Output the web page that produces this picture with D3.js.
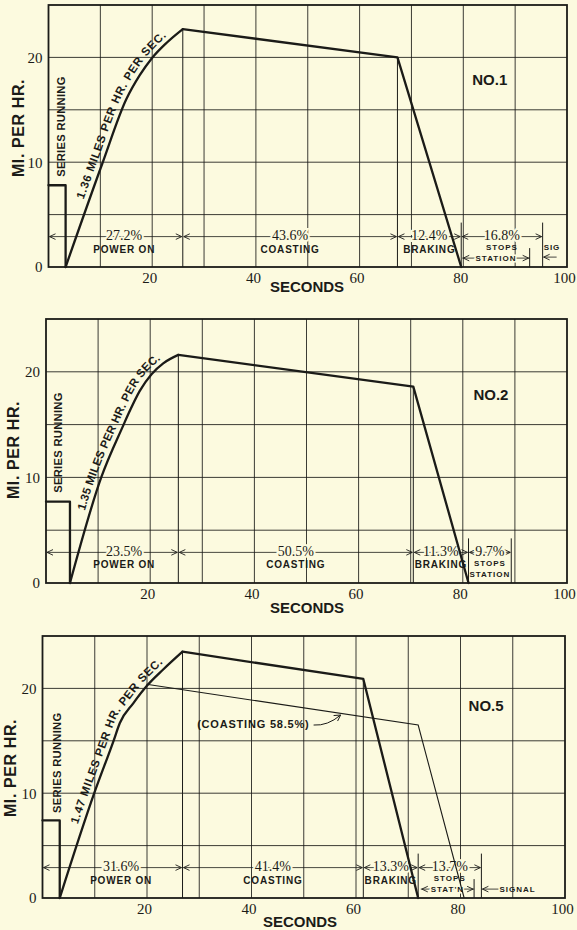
<!DOCTYPE html>
<html><head><meta charset="utf-8">
<script src="https://cdn.jsdelivr.net/npm/d3@7"></script>
<style>
html,body{margin:0;padding:0;background:#fcfadf;}
svg{display:block;}
</style></head><body>
<svg id="chart" width="577" height="930"></svg>
<script>
// ---------- DATA ----------
const xTicks = [20, 40, 60, 80, 100];
const yTicks = [0, 10, 20];

// Run No.1 (series running step, acceleration, coasting, braking)
const run1Time  = [0, 3.3, 3.3, 10.4, 15.0, 17.6, 19.9, 22.8, 25.9, 67.3, 79.6];
const run1Speed = [7.8, 7.8, 0, 9.9, 16.0, 18.3, 19.9, 21.4, 22.7, 20.0, 0];
// Run No.2
const run2Time  = [0, 4.6, 4.6, 10.6, 14.9, 15.8, 18.0, 20.3, 22.5, 25.4, 70.5, 81.1];
const run2Speed = [7.7, 7.7, 0, 10.0, 15.0, 16.0, 18.2, 19.8, 20.8, 21.6, 18.6, 0];
// Run No.5
const run5Time  = [0, 3.3, 3.3, 9.9, 13.6, 14.8, 17.4, 19.9, 23.1, 26.8, 61.4, 71.9];
const run5Speed = [7.4, 7.4, 0, 10.0, 15.0, 16.7, 18.6, 20.2, 21.8, 23.5, 20.9, 0];
// Run No.5, alternative (coasting 58.5%)
const run5AltTime  = [19.9, 71.9, 80.7];
const run5AltSpeed = [20.4, 16.5, 0];

// Phase boundaries (seconds) and percentages
const bounds1 = [0, 25.9, 67.3, 79.6, 95.3];
const pct1 = ["27.2%", "43.6%", "12.4%", "16.8%"];
const bounds2 = [0, 25.4, 70.5, 81.1, 89.3];
const pct2 = ["23.5%", "50.5%", "11.3%", "9.7%"];
const bounds5 = [0, 26.8, 61.4, 71.9, 84.0];
const pct5 = ["31.6%", "41.4%", "13.3%", "13.7%"];
const phaseNames = ["POWER ON", "COASTING", "BRAKING", "STOPS"];

const stationLabels = ["STATION", "STATION", "STAT'N"];
const stationSpans = [[79.8, 92.8], null, [72.4, 82.6]];
const signalLabels = ["SIG", null, "SIGNAL"];
const accelLabels = ["1.36 MILES PER HR. PER SEC.", "1.35 MILES PER HR. PER SEC.", "1.47 MILES PER HR. PER SEC."];
const runLabels = ["NO.1", "NO.2", "NO.5"];
const altLabel = "(COASTING 58.5%)";

// ---------- STYLE / LAYOUT ----------
const BG = "#fcfadf", INK = "#1b1b18";
const SANS = "'Liberation Sans', Arial, sans-serif";
const SERIF = "'Liberation Serif', 'Times New Roman', serif";

const layouts = [
  {left: 48.5, right: 567, top: 5,   bottom: 267, secX: 307, secDy: 25, miX: 18, miY: 128,
   accelStart: 6.2, accelLen: 186, series: [2.4, 13.4], no: [85.1, 17.9]},
  {left: 46,   right: 567, top: 319, bottom: 583, secX: 307, secDy: 30, miX: 13, miY: 450,
   accelStart: 6.6, accelLen: 172, series: [2.4, 13.3], no: [85.4, 17.8]},
  {left: 42.5, right: 565, top: 636, bottom: 898, secX: 300, secDy: 29, miX: 10, miY: 768,
   accelStart: 6.8, accelLen: 186, series: [2.8, 12.9], no: [84.9, 18.3]}
];

const panels = [
  {time: run1Time, speed: run1Speed, bounds: bounds1, pct: pct1},
  {time: run2Time, speed: run2Speed, bounds: bounds2, pct: pct2},
  {time: run5Time, speed: run5Speed, bounds: bounds5, pct: pct5,
   altTime: run5AltTime, altSpeed: run5AltSpeed}
];

const svg = d3.select("#chart");
svg.append("rect").attr("width", 577).attr("height", 930).attr("fill", BG);
const defs = svg.append("defs");

function speedAt(p, t) {
  let idx = -1;
  p.time.forEach((v, i) => { if (Math.abs(v - t) < 1e-6) idx = i; });
  return idx >= 0 ? p.speed[idx] : 0;
}

panels.forEach((p, pi) => {
  const L = layouts[pi];
  const x = d3.scaleLinear().domain([0, 100]).range([L.left, L.right]);
  const y = d3.scaleLinear().domain([0, 25]).range([L.bottom, L.top]);
  const g = svg.append("g");

  // grid
  g.selectAll(".vg").data(d3.range(10, 100, 10)).join("line")
    .attr("x1", d => x(d)).attr("x2", d => x(d)).attr("y1", y(0)).attr("y2", y(25))
    .attr("stroke", INK).attr("stroke-width", 1).attr("opacity", 0.85);
  g.selectAll(".hg").data(d3.range(5, 25, 5)).join("line")
    .attr("x1", x(0)).attr("x2", x(100)).attr("y1", d => y(d)).attr("y2", d => y(d))
    .attr("stroke", INK).attr("stroke-width", 1).attr("opacity", 0.85);
  g.append("rect").attr("x", x(0)).attr("y", y(25))
    .attr("width", x(100) - x(0)).attr("height", y(0) - y(25))
    .attr("fill", "none").attr("stroke", INK).attr("stroke-width", 1.8);

  // axis tick labels via axes
  const xAxis = d3.axisBottom(x).tickValues(xTicks).tickSize(0).tickPadding(5).tickFormat(d3.format("d"));
  const gx = g.append("g").attr("transform", `translate(0,${y(0)})`).call(xAxis);
  gx.select(".domain").remove();
  gx.selectAll("text").attr("font-family", SERIF).attr("font-size", 15).attr("fill", INK).attr("dx", -3);
  const yAxis = d3.axisLeft(y).tickValues(yTicks).tickSize(0).tickPadding(6).tickFormat(d3.format("d"));
  const gy = g.append("g").attr("transform", `translate(${x(0)},0)`).call(yAxis);
  gy.select(".domain").remove();
  gy.selectAll("text").attr("font-family", SERIF).attr("font-size", 15).attr("fill", INK);

  // axis titles
  g.append("text").attr("x", L.secX).attr("y", y(0) + L.secDy)
    .attr("text-anchor", "middle").attr("font-family", SANS).attr("font-weight", "bold")
    .attr("font-size", 15).attr("fill", INK).text("SECONDS");
  g.append("text").attr("transform", `translate(${L.miX},${L.miY}) rotate(-90)`)
    .attr("dy", "0.35em").attr("text-anchor", "middle").attr("font-family", SANS)
    .attr("font-weight", "bold").attr("font-size", 16).attr("letter-spacing", 0.6)
    .attr("fill", INK).text("MI. PER HR.");

  // phase boundary verticals
  const lineY = y(2.9);
  const b = p.bounds;
  [1, 2].forEach(i => {
    g.append("line").attr("x1", x(b[i])).attr("x2", x(b[i]))
      .attr("y1", y(0)).attr("y2", y(speedAt(p, b[i])))
      .attr("stroke", INK).attr("stroke-width", 1);
  });
  [3, 4].forEach(i => {
    g.append("line").attr("x1", x(b[i])).attr("x2", x(b[i]))
      .attr("y1", y(0)).attr("y2", lineY - 14)
      .attr("stroke", INK).attr("stroke-width", 1);
  });

  // dimension lines
  function chevron(px, py, dir) {
    g.append("path").attr("d", `M${px - dir * 6},${py - 2.8}L${px},${py}L${px - dir * 6},${py + 2.8}`)
      .attr("fill", "none").attr("stroke", INK).attr("stroke-width", 0.9);
  }
  for (let i = 0; i < 4; i++) {
    const x0 = x(b[i]) + 1, x1 = x(b[i + 1]) - 1;
    g.append("line").attr("x1", x0).attr("x2", x1).attr("y1", lineY).attr("y2", lineY)
      .attr("stroke", INK).attr("stroke-width", 0.8);
    chevron(x0, lineY, -1);
    chevron(x1, lineY, 1);
    const start = i === 0 ? p.time[2] : b[i];
    const cx = x((start + b[i + 1]) / 2);
    g.append("text").attr("x", cx).attr("y", lineY + 3.5)
      .attr("text-anchor", "middle").attr("font-family", SERIF).attr("font-size", 14)
      .attr("fill", INK).attr("stroke", BG).attr("stroke-width", 4).attr("paint-order", "stroke")
      .text(p.pct[i]);
    const isStops = i === 3;
    g.append("text").attr("x", cx).attr("y", lineY + (isStops ? 13.5 : 16))
      .attr("text-anchor", "middle").attr("font-family", SANS).attr("font-weight", "bold")
      .attr("font-size", isStops ? 8 : 10).attr("letter-spacing", isStops ? 1 : 0.8)
      .attr("fill", INK).text(phaseNames[i]);
  }

  // station row
  const span = stationSpans[pi];
  const stY = lineY + 24.5;
  if (span) {
    const sx0 = x(span[0]), sx1 = x(span[1]);
    g.append("line").attr("x1", sx0).attr("x2", sx1).attr("y1", stY - 3).attr("y2", stY - 3)
      .attr("stroke", INK).attr("stroke-width", 0.8);
    chevron(sx0 + 1, stY - 3, -1); chevron(sx1 - 1, stY - 3, 1);
    g.append("line").attr("x1", sx1).attr("x2", sx1).attr("y1", y(0)).attr("y2", stY - 13)
      .attr("stroke", INK).attr("stroke-width", 1);
    g.append("text").attr("x", (sx0 + sx1) / 2).attr("y", stY)
      .attr("text-anchor", "middle").attr("font-family", SANS).attr("font-weight", "bold")
      .attr("font-size", 8).attr("letter-spacing", 1).attr("fill", INK)
      .attr("stroke", BG).attr("stroke-width", 3).attr("paint-order", "stroke")
      .text(stationLabels[pi]);
  } else {
    g.append("text").attr("x", x((b[3] + b[4]) / 2)).attr("y", stY)
      .attr("text-anchor", "middle").attr("font-family", SANS).attr("font-weight", "bold")
      .attr("font-size", 8).attr("letter-spacing", 1).attr("fill", INK)
      .text(stationLabels[pi]);
  }
  // signal
  if (signalLabels[pi]) {
    const tip = x(b[4]) + 1;
    if (pi === 0) {
      g.append("line").attr("x1", tip).attr("x2", tip + 13).attr("y1", stY - 4).attr("y2", stY - 4)
        .attr("stroke", INK).attr("stroke-width", 0.8);
      chevron(tip, stY - 4, -1);
      g.append("text").attr("x", x(97.1)).attr("y", lineY + 13.5)
        .attr("text-anchor", "middle").attr("font-family", SANS).attr("font-weight", "bold")
        .attr("font-size", 8).attr("letter-spacing", 0.8).attr("fill", INK).text(signalLabels[pi]);
    } else {
      g.append("line").attr("x1", tip).attr("x2", tip + 16).attr("y1", stY - 3).attr("y2", stY - 3)
        .attr("stroke", INK).attr("stroke-width", 0.8);
      chevron(tip, stY - 3, -1);
      g.append("text").attr("x", tip + 17).attr("y", stY)
        .attr("font-family", SANS).attr("font-weight", "bold")
        .attr("font-size", 8).attr("letter-spacing", 1).attr("fill", INK).text(signalLabels[pi]);
    }
  }

  // alternative thin run
  const line = d3.line().x(d => x(d[0])).y(d => y(d[1]));
  if (p.altTime) {
    g.append("path").datum(d3.zip(p.altTime, p.altSpeed)).attr("d", line)
      .attr("fill", "none").attr("stroke", INK).attr("stroke-width", 1.1);
    const tx = x(29.6), ty = y(16.6);
    const lbl = g.append("text").attr("x", tx).attr("y", ty).attr("dy", "0.35em")
      .attr("font-family", SANS).attr("font-weight", "bold").attr("font-size", 11)
      .attr("letter-spacing", 0.8).attr("fill", INK).text(altLabel);
    const ex = tx + lbl.node().getComputedTextLength() + 4;
    g.append("path").attr("d", `M${ex},${ty + 1}Q${ex + 14},${ty + 2} ${ex + 27},${ty - 9}`)
      .attr("fill", "none").attr("stroke", INK).attr("stroke-width", 1);
    g.append("path").attr("d", `M${ex + 20},${ty - 8.5}L${ex + 27},${ty - 9}L${ex + 24},${ty - 3}`)
      .attr("fill", "none").attr("stroke", INK).attr("stroke-width", 1);
  }

  // main run (thick): step, smooth acceleration, coasting + braking
  const pts = d3.zip(p.time, p.speed);
  const peakIdx = d3.maxIndex(p.speed);
  const smooth = d3.line().x(d => x(d[0])).y(d => y(d[1])).curve(d3.curveMonotoneX);
  const thick = sel => sel.attr("fill", "none").attr("stroke", INK).attr("stroke-width", 2.3)
    .attr("stroke-linejoin", "round").attr("stroke-linecap", "round");
  g.append("path").datum(pts.slice(0, 3)).attr("d", line).call(thick);
  g.append("path").datum(pts.slice(2, peakIdx + 1)).attr("d", smooth).call(thick);
  g.append("path").datum(pts.slice(peakIdx)).attr("d", line).call(thick);

  // acceleration label following the curve (offset path)
  const offLine = d3.line().x(d => x(d[0]) - 5).y(d => y(d[1]) - 2).curve(d3.curveMonotoneX);
  const guide = defs.append("path").attr("id", "acc" + pi)
    .attr("d", offLine(pts.slice(2, peakIdx + 1)));
  const node = guide.node();
  const total = node.getTotalLength();
  let startLen = 0;
  const targetY = y(L.accelStart) - 2;
  for (let l = 0; l < total; l += 0.5) {
    if (node.getPointAtLength(l).y <= targetY) { startLen = l; break; }
  }
  g.append("text").attr("font-family", SANS).attr("font-weight", "bold")
    .attr("font-size", 11.5).attr("fill", INK)
    .append("textPath").attr("href", "#acc" + pi).attr("startOffset", startLen)
    .attr("textLength", Math.min(L.accelLen, total - startLen - 2)).attr("lengthAdjust", "spacing")
    .text(accelLabels[pi]);

  // labels
  g.append("text").attr("transform", `translate(${x(L.series[0])},${y(L.series[1])}) rotate(-90)`)
    .attr("dy", "0.35em").attr("text-anchor", "middle").attr("font-family", SANS)
    .attr("font-weight", "bold").attr("font-size", 11.2).attr("letter-spacing", 0.3)
    .attr("fill", INK).text("SERIES RUNNING");
  g.append("text").attr("x", x(L.no[0])).attr("y", y(L.no[1])).attr("dy", "0.35em")
    .attr("text-anchor", "middle").attr("font-family", SANS).attr("font-weight", "bold")
    .attr("font-size", 15).attr("fill", INK).text(runLabels[pi]);
});
</script>
</body></html>
